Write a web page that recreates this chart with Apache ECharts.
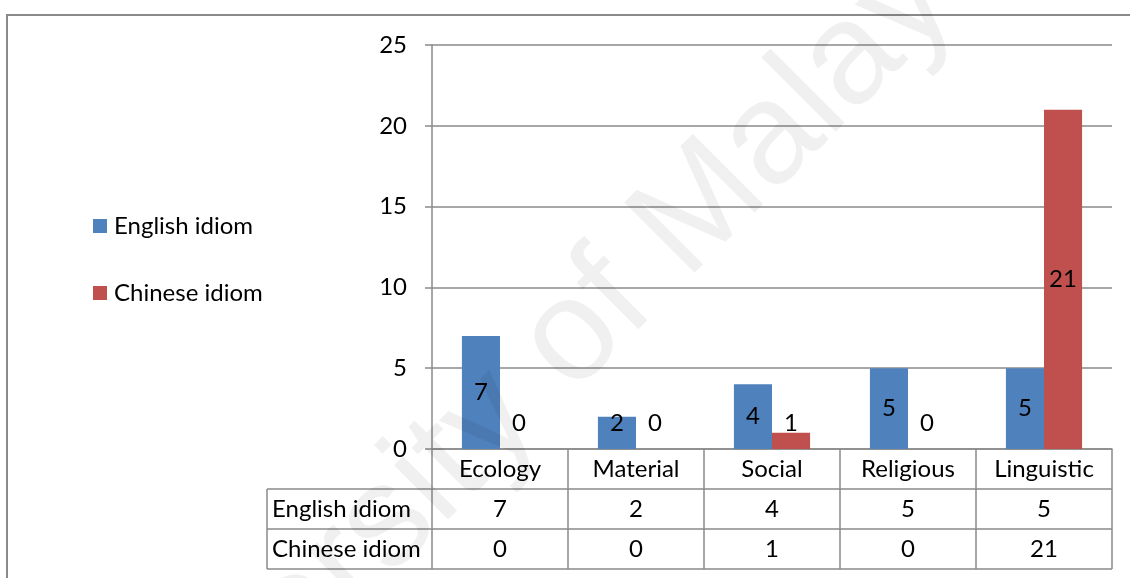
<!DOCTYPE html>
<html>
<head>
<meta charset="utf-8">
<script src="https://cdn.jsdelivr.net/npm/echarts@6/dist/echarts.min.js"></script>
<style>
  html, body { margin: 0; padding: 0; background: #fff; }
  #chart { width: 1130px; height: 578px; }
</style>
</head>
<body>
<div id="chart"></div>
<script>
// Idiom counts per cultural category
const categories = ['Ecology', 'Material', 'Social', 'Religious', 'Linguistic'];
const englishIdiom = [7, 2, 4, 5, 5];
const chineseIdiom = [0, 0, 1, 0, 21];
const seriesNames = ['English idiom', 'Chinese idiom'];
const yMin = 0, yMax = 25, yStep = 5;

// Layout and style
const FONT = 'Lato';
const FS = 24;
const LINE = '#8a8a8a';
const COLORS = ['#4F81BD', '#C0504D'];
const plot = { left: 432, right: 1112, top: 45, bottom: 449 };
const rowH = 40;
const tableLeft = 267;
const W = 1130, H = 578;

const pxPerUnit = (plot.bottom - plot.top) / (yMax - yMin);
const labelFloor = 26; // short bars get their label lifted to this height above the baseline

function barLabel(v) {
  if (v * pxPerUnit / 2 >= labelFloor) return { position: 'inside' };
  return { position: 'insideBottom', distance: labelFloor - FS / 2 };
}
function seriesData(values) {
  return values.map(v => ({ value: v, label: barLabel(v) }));
}

const textBase = { fontFamily: FONT, fontSize: FS, color: '#000', lineHeight: FS };

function tableAxis(offset, values) {
  return {
    type: 'category', data: categories, position: 'bottom', offset: offset,
    axisLine: { show: false }, axisTick: { show: false }, splitLine: { show: false },
    axisLabel: Object.assign({ margin: (rowH - FS) / 2, formatter: (v, i) => String(values[i]) }, textBase)
  };
}

const chart = echarts.init(document.getElementById('chart'), null, { renderer: 'canvas' });

const graphics = [
  // outer frame
  { type: 'rect', shape: { x: 7, y: 15, width: 1300, height: 700 },
    style: { fill: 'none', stroke: LINE, lineWidth: 2 }, silent: true },
  // data table rules
  ...[1, 2, 3].map(k => ({
    type: 'line', shape: { x1: tableLeft, y1: plot.bottom + k * rowH, x2: plot.right, y2: plot.bottom + k * rowH },
    style: { stroke: LINE, lineWidth: 1.5 }, silent: true
  })),
  { type: 'line', shape: { x1: tableLeft, y1: plot.bottom + rowH, x2: tableLeft, y2: plot.bottom + 3 * rowH },
    style: { stroke: LINE, lineWidth: 1.5 }, silent: true },
  // row headers
  ...seriesNames.map((name, k) => ({
    type: 'text', x: tableLeft + 5, y: plot.bottom + (k + 1.5) * rowH,
    style: { text: name, font: FS + 'px ' + FONT, fill: '#000', align: 'left', verticalAlign: 'middle' },
    silent: true
  })),
  // watermark
  { type: 'text', x: 527, y: 384, rotation: Math.PI / 4, z: 100,
    style: { text: 'University of Malaya', font: '145px "Liberation Sans"', fill: 'rgba(0,0,0,0.06)',
             align: 'center', verticalAlign: 'middle' }, silent: true }
];

chart.setOption({
  animation: false,
  backgroundColor: '#fff',
  color: COLORS,
  grid: { left: plot.left, right: W - plot.right, top: plot.top, bottom: H - plot.bottom,
          containLabel: false, outerBoundsMode: 'none' },
  legend: {
    orient: 'vertical', left: 93, top: 214, padding: 0,
    itemWidth: 14, itemHeight: 14, itemGap: 43, icon: 'rect',
    data: seriesNames,
    textStyle: Object.assign({ padding: [0, 0, 0, 2] }, textBase)
  },
  xAxis: [
    {
      type: 'category', data: categories, position: 'bottom',
      axisLine: { show: true, lineStyle: { color: LINE, width: 1.5 } },
      axisTick: { show: true, length: rowH * 3, lineStyle: { color: LINE, width: 1.5 } },
      splitLine: { show: false },
      axisLabel: Object.assign({ margin: (rowH - FS) / 2 }, textBase)
    },
    tableAxis(rowH, englishIdiom),
    tableAxis(2 * rowH, chineseIdiom)
  ],
  yAxis: {
    type: 'value', min: yMin, max: yMax, interval: yStep,
    axisLine: { show: true, lineStyle: { color: LINE, width: 1.5 } },
    axisTick: { show: true, length: 7, lineStyle: { color: LINE, width: 1.5 } },
    splitLine: { show: true, lineStyle: { color: LINE, width: 1.5 } },
    axisLabel: Object.assign({ margin: 25 }, textBase)
  },
  series: [englishIdiom, chineseIdiom].map((vals, k) => ({
    name: seriesNames[k], type: 'bar', xAxisIndex: 0,
    data: seriesData(vals),
    barGap: '0%', barCategoryGap: '44%',
    itemStyle: { color: COLORS[k] },
    label: Object.assign({ show: true }, textBase)
  })),
  graphic: graphics
});
</script>
</body>
</html>
